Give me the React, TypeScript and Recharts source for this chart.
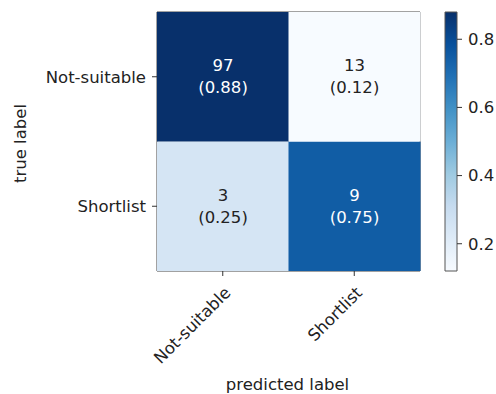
import React from 'react';
import { Bar, BarChart, Cell, LabelList, ReferenceArea, XAxis, YAxis } from 'recharts';

// confusion matrix: rows = true label, columns = predicted label
const classes = ['Not-suitable', 'Shortlist'];
const counts = [
  [97, 13],
  [3, 9],
];
const ratios = [
  [0.88, 0.12],
  [0.25, 0.75],
];
const colorbarTicks = [0.2, 0.4, 0.6, 0.8];

// matplotlib "Blues"
const BLUES = ['#f7fbff', '#deebf7', '#c6dbef', '#9ecae1', '#6baed6', '#4292c6', '#2171b5', '#08519c', '#08306b'];

const FONT = '"DejaVu Sans", sans-serif';
const TEXT = '#222';

const allRatios = ratios.flat();
const lo = Math.min(...allRatios);
const hi = Math.max(...allRatios);

const hex = (c: string) => [1, 3, 5].map((i) => parseInt(c.slice(i, i + 2), 16));

function blues(v: number) {
  const t = Math.max(0, Math.min(1, (v - lo) / (hi - lo)));
  const p = t * (BLUES.length - 1);
  const i = Math.min(BLUES.length - 2, Math.floor(p));
  const f = p - i;
  const a = hex(BLUES[i]);
  const b = hex(BLUES[i + 1]);
  const m = a.map((x, k) => Math.round(x + (b[k] - x) * f));
  return `rgb(${m[0]},${m[1]},${m[2]})`;
}

// one stacked segment per true-label row; the first bar sits at the bottom
const rowKeys = classes.map((_, i) => `row${i}`);
const matrixData = classes.map((pred) => {
  const d: { [key: string]: any } = { pred };
  rowKeys.forEach((k) => (d[k] = 1));
  return d;
});
const stackOrder = classes.map((_, i) => classes.length - 1 - i);

const colorbarData = [{ name: 'scale', span: [lo, hi] }];

const cellLabel = (row: number) => (props: any) => {
  const { x, y, width, height, index } = props;
  const cx = x + width / 2;
  const cy = y + height / 2;
  const r = ratios[row][index];
  const fill = r > hi / 2 ? '#fff' : TEXT;
  return (
    <g>
      <text x={cx} y={cy - 11} textAnchor="middle" dominantBaseline="central" fontSize={16.5} fontFamily={FONT} fill={fill}>
        {counts[row][index]}
      </text>
      <text x={cx} y={cy + 11} textAnchor="middle" dominantBaseline="central" fontSize={16.5} fontFamily={FONT} fill={fill}>
        ({r.toFixed(2)})
      </text>
    </g>
  );
};

const RotatedTick = (props: any) => {
  const { x, y, payload } = props;
  const ex = x + 5;
  const ey = y + 12;
  return (
    <text
      x={ex}
      y={ey}
      transform={`rotate(-45, ${ex}, ${ey})`}
      textAnchor="end"
      dominantBaseline="central"
      fontSize={16.5}
      fontFamily={FONT}
      fill={TEXT}
    >
      {payload.value}
    </text>
  );
};

const App: React.FC = () => {
  return (
    <div style={{ position: 'fixed', left: 0, top: 0, width: 496, height: 394, background: '#fff' }}>
      <BarChart
        width={496}
        height={394}
        data={matrixData}
        margin={{ top: 12, right: 76, left: 0, bottom: 0 }}
        barCategoryGap={0}
        barGap={0}
      >
        <XAxis
          dataKey="pred"
          height={123}
          axisLine={false}
          tickSize={5}
          tickLine={{ stroke: '#333' }}
          tick={<RotatedTick />}
          interval={0}
          label={{
            content: (p: any) => {
              const vb = p.viewBox;
              return (
                <text x={vb.x + vb.width / 2 - 1} y={390} textAnchor="middle" fontSize={16.5} fontFamily={FONT} fill={TEXT}>
                  predicted label
                </text>
              );
            },
          }}
        />
        <YAxis
          type="number"
          domain={[0, classes.length]}
          ticks={classes.map((_, i) => i + 0.5)}
          tickFormatter={(v: number) => classes[classes.length - 1 - Math.floor(v)]}
          width={157}
          axisLine={false}
          tickSize={5}
          tickMargin={6}
          tickLine={{ stroke: '#333' }}
          tick={{ fontSize: 16.5, fontFamily: FONT, fill: TEXT }}
          label={{
            content: (p: any) => {
              const vb = p.viewBox;
              const cy = vb.y + vb.height / 2 + 2;
              return (
                <text x={20} y={cy} transform={`rotate(-90, 20, ${cy})`} textAnchor="middle" dominantBaseline="central" fontSize={16.5} fontFamily={FONT} fill={TEXT}>
                  true label
                </text>
              );
            },
          }}
        />
        {stackOrder.map((row) => (
          <Bar key={row} dataKey={rowKeys[row]} stackId="m" isAnimationActive={false}>
            {classes.map((_, col) => (
              <Cell key={col} fill={blues(ratios[row][col])} />
            ))}
            <LabelList dataKey={rowKeys[row]} content={cellLabel(row)} />
          </Bar>
        ))}
        <ReferenceArea y1={0} y2={classes.length} fill="none" stroke="#444" strokeWidth={1} />
      </BarChart>

      <div style={{ position: 'absolute', left: 440, top: 0 }}>
        <BarChart
          width={56}
          height={394}
          data={colorbarData}
          margin={{ top: 12, right: 0, left: 5, bottom: 123 }}
          barCategoryGap={0}
        >
          <defs>
            <linearGradient id="bluesScale" x1="0" y1="1" x2="0" y2="0">
              {BLUES.map((c, i) => (
                <stop key={i} offset={i / (BLUES.length - 1)} stopColor={c} />
              ))}
            </linearGradient>
          </defs>
          <XAxis dataKey="name" hide />
          <YAxis
            orientation="right"
            type="number"
            domain={[lo, hi]}
            ticks={colorbarTicks}
            tickFormatter={(v: number) => v.toFixed(1)}
            width={39}
            axisLine={false}
            tickSize={5}
            tickMargin={6}
            tickLine={{ stroke: '#333' }}
            tick={{ fontSize: 16.5, fontFamily: FONT, fill: TEXT, textAnchor: 'start' }}
          />
          <Bar dataKey="span" fill="url(#bluesScale)" stroke="#555" strokeWidth={1} isAnimationActive={false} />
        </BarChart>
      </div>
    </div>
  );
};

export default App;
